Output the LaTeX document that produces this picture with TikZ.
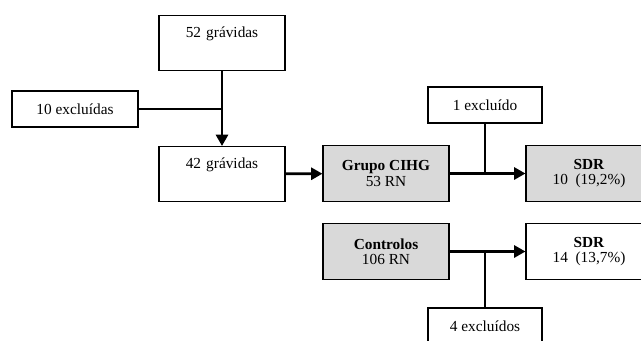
\documentclass[tikz,border=0pt]{standalone}
\usepackage{fontspec}
\setmainfont{Liberation Serif}
\usepackage{xcolor}
\usetikzlibrary{arrows.meta,positioning}
\definecolor{boxgray}{RGB}{217,217,217}

\begin{document}
\begin{tikzpicture}[
  x=0.75pt, y=-0.75pt,
  every node/.style={font=\fontsize{11.5}{11.5}\selectfont},
  topbox/.style={draw=black, line width=0.8pt, fill=white, inner sep=0pt, align=center,
                 text width=94.5pt, text height=16.5pt, text depth=24.75pt},
  exbox/.style={draw=black, line width=0.8pt, fill=white, inner sep=0pt, align=center,
                minimum height=27pt},
  gbox/.style={draw=black, line width=0.8pt, fill=boxgray, inner sep=0pt, align=center,
               minimum width=94.5pt, minimum height=41.5pt},
  wbox/.style={draw=black, line width=0.8pt, fill=white, inner sep=0pt, align=center,
               minimum width=94.5pt, minimum height=41.5pt},
  arrow/.style={-{Triangle[length=8.5pt, width=9pt]}, line width=2.1pt},
  exline/.style={line width=0.8pt},
]
  \useasboundingbox (0,0) rectangle (641,340);

  % ---- Pregnant women ----
  \node[topbox, anchor=north] (g52) at (222,15) {52 grávidas};
  \node[exbox, minimum width=94.5pt] (ex10) at (75,109) {10 excluídas};
  \node[topbox, anchor=north] (g42) at (222,146) {42 grávidas};

  % ---- Groups ----
  \node[gbox] (cihg) at (386,173.5) {\textbf{Grupo CIHG}\\53 RN};
  \node[gbox] (ctrl) at (386,251.5) {\textbf{Controlos}\\106 RN};

  % ---- Outcome ----
  \node[exbox, minimum width=85.5pt] (ex1) at (485,105) {1 excluído};
  \node[gbox] (sdr1) at (589,173.5) {\textbf{SDR}\\10\enspace(19,2\%)};
  \node[wbox] (sdr2) at (589,251.5) {\textbf{SDR}\\14\enspace(13,7\%)};
  \node[exbox, minimum width=85.5pt] (ex4) at (485,326) {4 excluídos};

  % ---- Arrows ----
  \draw[arrow] (g52) -- (g42);
  \draw[exline] (ex10) -- (ex10 -| g52);
  \draw[arrow] (g42) -- (cihg);
  \draw[arrow] (cihg) -- (sdr1);
  \draw[exline] (ex1) -- (ex1 |- cihg);
  \draw[arrow] (ctrl) -- (sdr2);
  \draw[exline] (ex4) -- (ex4 |- ctrl);
\end{tikzpicture}
\end{document}
